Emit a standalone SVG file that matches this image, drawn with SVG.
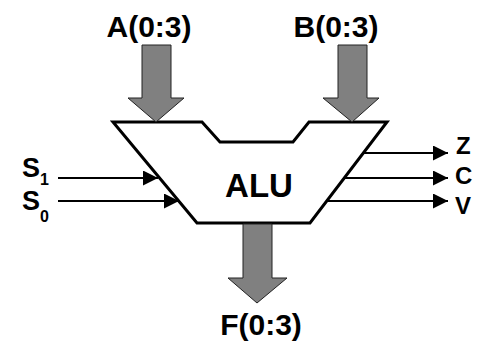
<svg xmlns="http://www.w3.org/2000/svg" width="481" height="361" viewBox="0 0 481 361">
<defs>
<style>
text{font-family:"Liberation Sans",Arial,sans-serif;font-weight:bold;fill:#000}
.bus{fill:#808080;stroke:#222;stroke-width:1}
.sig{stroke:#000;stroke-width:2;fill:none}
</style>
<marker id="ah" markerWidth="15" markerHeight="15" refX="15" refY="7.5" orient="auto" markerUnits="userSpaceOnUse">
<path d="M0,0 L15,7.5 L0,15 Z" fill="#000"/>
</marker>
</defs>
<rect width="481" height="361" fill="#fff"/>
<g id="connectors">
<line class="sig" x1="58" y1="178" x2="158" y2="178" marker-end="url(#ah)"/>
<line class="sig" x1="58" y1="201" x2="179" y2="201" marker-end="url(#ah)"/>
<line class="sig" x1="364" y1="153" x2="448" y2="153" marker-end="url(#ah)"/>
<line class="sig" x1="345" y1="178" x2="448" y2="178" marker-end="url(#ah)"/>
<line class="sig" x1="328" y1="201" x2="448" y2="201" marker-end="url(#ah)"/>
</g>
<g id="alu">
<path d="M113,122 L202,122 L220,142 L293,142 L309,122 L387,122 L310,223 L197,223 Z" fill="#fff" stroke="#000" stroke-width="3" stroke-linejoin="miter"/>
<text x="259" y="197" font-size="33" text-anchor="middle">ALU</text>
</g>
<g id="busA">
<path class="bus" d="M142,45 L171,45 L171,98 L184,98 L156,122 L128,98 L142,98 Z"/>
<text x="149" y="37" font-size="30" text-anchor="middle">A(0:3)</text>
</g>
<g id="busB">
<path class="bus" d="M338,45 L367,45 L367,98 L379,98 L352,122 L323,98 L338,98 Z"/>
<text x="336" y="37" font-size="30" text-anchor="middle">B(0:3)</text>
</g>
<g id="busF">
<path class="bus" d="M243,224 L272,224 L272,278 L287,278 L257,303 L228,278 L243,278 Z"/>
<text x="261" y="335" font-size="30" text-anchor="middle">F(0:3)</text>
</g>
<g id="s1"><text x="22" y="177" font-size="27">S<tspan font-size="16" dy="8">1</tspan></text></g>
<g id="s0"><text x="22" y="210" font-size="27">S<tspan font-size="16" dy="12">0</tspan></text></g>
<g id="z"><text x="456" y="154" font-size="24">Z</text></g>
<g id="c"><text x="455" y="184" font-size="24">C</text></g>
<g id="v"><text x="455" y="214" font-size="24">V</text></g>
</svg>
